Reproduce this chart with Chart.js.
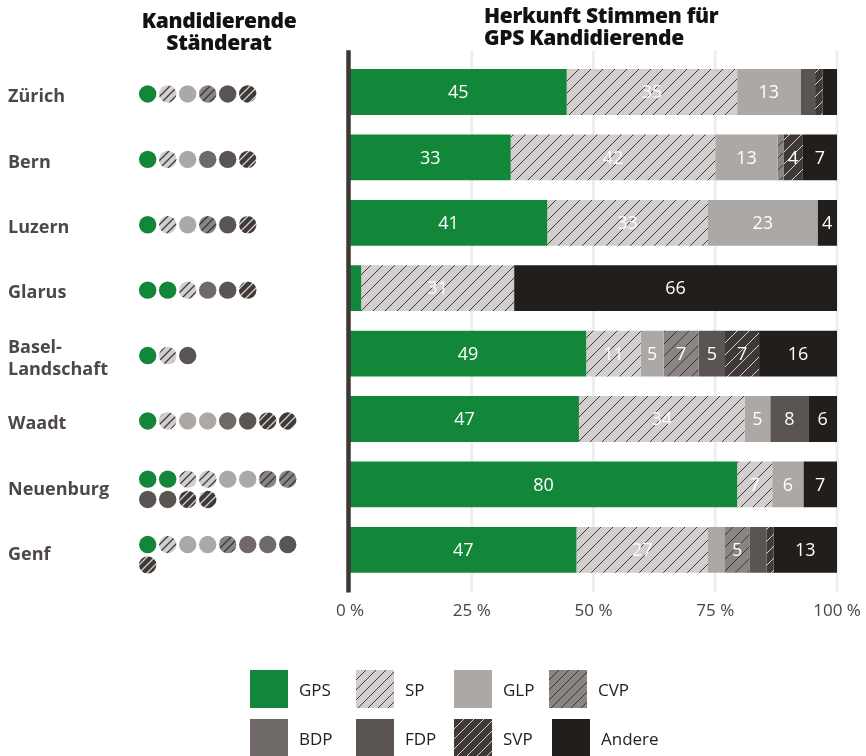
<!DOCTYPE html>
<html><head><meta charset="utf-8">
<script src="https://cdn.jsdelivr.net/npm/chart.js@4.4.1/dist/chart.umd.min.js"></script>
<style>
html,body{margin:0;padding:0;background:#fff;}
#wrap{position:relative;width:866px;height:756px;overflow:hidden;font-family:'Open Sans',sans-serif;}
canvas.full{position:absolute;left:0;top:0;}
.title{position:absolute;font-family:'Open Sans',sans-serif;font-weight:800;font-size:21px;line-height:22px;color:#141210;letter-spacing:-0.3px;}
.leg{position:absolute;display:flex;align-items:center;font-size:17px;color:#222;height:38px;}
.leg canvas{width:38px;height:38px;margin-right:11px;display:block;}
</style></head>
<body><div id="wrap">
<canvas id="bars" class="full" width="866" height="756"></canvas>
<canvas id="dots" class="full" width="866" height="756"></canvas>
<div class="title" style="left:119px;top:9px;width:200px;text-align:center;">Kandidierende<br>Ständerat</div>
<div class="title" style="left:484px;top:4px;">Herkunft Stimmen für<br>GPS Kandidierende</div>
<div id="legend"></div>
</div>
<script>
// ---- data ----
const regions = ['Zürich', 'Bern', 'Luzern', 'Glarus', ['Basel-', 'Landschaft'], 'Waadt', 'Neuenburg', 'Genf'];
const parties = ['GPS', 'SP', 'GLP', 'CVP', 'BDP', 'FDP', 'SVP', 'Andere'];
const gps    = [44.5, 33,   40.5, 2.3,  48.5, 47,  79.5, 46.5];
const sp     = [35,   42,   33,   31.4, 11.2, 34,  7.2,  27];
const glp    = [13,   12.8, 22.5, 0,    4.7,  5.3, 6.4,  3.5];
const cvp    = [0,    1.2,  0,    0,    7.2,  0,   0,    5];
const bdp    = [0,    0,    0,    0,    0,    0,   0,    0];
const fdp    = [3,    0,    0,    0,    5.4,  7.8, 0,    3.5];
const svp    = [1.5,  4,    0,    0,    7,    0,   0,    1.5];
const andere = [3,    7,    4,    66.3, 16,   5.9, 6.9,  13];
const tickValues = [0, 25, 50, 75, 100];
// Ständerat candidates per canton (party of each candidate)
const candidates = [
  ['GPS','SP','GLP','CVP','FDP','SVP'],
  ['GPS','SP','GLP','BDP','FDP','SVP'],
  ['GPS','SP','GLP','CVP','FDP','SVP'],
  ['GPS','GPS','SP','BDP','FDP','SVP'],
  ['GPS','SP','FDP'],
  ['GPS','SP','GLP','GLP','BDP','FDP','SVP','SVP'],
  ['GPS','GPS','SP','SP','GLP','GLP','CVP','CVP','FDP','FDP','SVP','SVP'],
  ['GPS','SP','GLP','GLP','CVP','BDP','BDP','FDP','SVP']
];
const series = [gps, sp, glp, cvp, bdp, fdp, svp, andere];

// ---- styles ----
const styles = {
  GPS:{bg:'#12873a'}, SP:{bg:'#d1cecd', line:'#3e3b3a'}, GLP:{bg:'#aca8a5'},
  CVP:{bg:'#8a8582', line:'#3a3634'}, BDP:{bg:'#6f6a67'}, FDP:{bg:'#5a5452'},
  SVP:{bg:'#3f3a37', line:'#d6d2d0'}, Andere:{bg:'#221e1b'}
};
function makeFill(ctx, party, size, lw){
  const s = styles[party];
  if(!s.line) return s.bg;
  const c = document.createElement('canvas'); c.width = c.height = size;
  const x = c.getContext('2d');
  x.fillStyle = s.bg; x.fillRect(0,0,size,size);
  x.strokeStyle = s.line; x.lineWidth = lw;
  x.beginPath();
  x.moveTo(-1, size+1); x.lineTo(size+1, -1);
  x.moveTo(-size/2-1, size/2+1); x.lineTo(size/2+1, -size/2-1);
  x.moveTo(size/2-1, size*1.5+1); x.lineTo(size*1.5+1, size/2-1);
  x.stroke();
  return ctx.createPattern(c, 'repeat');
}

Chart.defaults.font.family = "'Open Sans', sans-serif";

// ---- bar chart ----
const ctxB = document.getElementById('bars').getContext('2d');
const gridPlugin = {
  id:'gridExt',
  beforeDatasetsDraw(chart){
    const {ctx, chartArea:a, scales:{x}} = chart;
    ctx.save(); ctx.strokeStyle = '#eeeeee'; ctx.lineWidth = 3;
    tickValues.forEach(v => { if(v === 0) return;
      const px = x.getPixelForValue(v);
      ctx.beginPath(); ctx.moveTo(px, a.top - 9); ctx.lineTo(px, a.bottom + 10); ctx.stroke(); });
    ctx.restore();
  },
  afterDatasetsDraw(chart){
    const {ctx, chartArea:a, scales:{x}} = chart;
    ctx.save();
    // value labels
    ctx.fillStyle = '#ffffff'; ctx.font = "18px 'Open Sans', sans-serif";
    ctx.textAlign = 'center'; ctx.textBaseline = 'middle';
    chart.data.datasets.forEach((ds, i) => {
      const meta = chart.getDatasetMeta(i);
      meta.data.forEach((el, j) => {
        const v = ds.data[j];
        if(v >= 4){ const p = el.getCenterPoint(); ctx.fillText(String(Math.round(v)), p.x, p.y + 1); }
      });
    });
    // zero axis line
    const px = x.getPixelForValue(0);
    ctx.strokeStyle = '#3d3836'; ctx.lineWidth = 4.5;
    ctx.beginPath(); ctx.moveTo(px - 1.5, a.top - 9); ctx.lineTo(px - 1.5, a.bottom + 10); ctx.stroke();
    ctx.restore();
  }
};
new Chart(ctxB, {
  type:'bar',
  data:{
    labels: regions,
    datasets: parties.map((p, i) => ({
      label: p, data: series[i], backgroundColor: makeFill(ctxB, p, 12, 1),
      borderWidth: 0, categoryPercentage: 1, barPercentage: 0.7
    }))
  },
  options:{
    indexAxis:'y', responsive:false, animation:false, devicePixelRatio:1,
    layout:{padding:{left:8, top:59.3, right:29, bottom:133.5}},
    scales:{
      x:{stacked:true, min:0, max:100, grid:{display:false, drawTicks:false}, border:{display:false},
         afterBuildTicks(s){ s.ticks = tickValues.map(v => ({value:v})); },
         ticks:{callback:v => v + ' %', color:'#444444', font:{size:17}, padding:18, maxRotation:0, autoSkip:false},
         afterFit(s){ s.height = 40; s.paddingLeft = 0; s.paddingRight = 0; }},
      y:{stacked:true, grid:{display:false, drawTicks:false}, border:{display:false},
         ticks:{crossAlign:'far', color:'#4d4845', font:{size:18, weight:'bold', lineHeight:1.2}, padding:0, autoSkip:false, labelOffset:5},
         afterFit(s){ s.width = 342; }}
    },
    plugins:{legend:{display:false}, tooltip:{enabled:false}}
  },
  plugins:[gridPlugin]
});

// ---- candidate dots chart ----
const ctxD = document.getElementById('dots').getContext('2d');
const dotData = parties.map(() => []);
candidates.forEach((list, r) => {
  const two = list.length > 8;
  list.forEach((p, k) => {
    const line = Math.floor(k / 8);
    const off = two ? (line === 0 ? -0.08 : 0.23) : 0.03;
    dotData[parties.indexOf(p)].push({x: k % 8, y: r + off});
  });
});
new Chart(ctxD, {
  type:'scatter',
  data:{datasets: parties.map((p, i) => ({
    label:p, data: dotData[i], pointBackgroundColor: makeFill(ctxD, p, 8, 1.3),
    pointBorderWidth:0, pointRadius:8.7, pointHoverRadius:8.7
  }))},
  options:{
    responsive:false, animation:false, devicePixelRatio:1,
    layout:{padding:{left:137.7, right:528.3, top:59.3, bottom:173.5}},
    scales:{x:{display:false, min:-0.5, max:9.5}, y:{display:false, min:-0.5, max:7.5, reverse:true}},
    plugins:{legend:{display:false}, tooltip:{enabled:false}}
  }
});

// ---- legend ----
const legPos = [[250,670],[356,670],[454,670],[549,670],[250,719],[356,719],[454,719],[552,719]];
const legEl = document.getElementById('legend');
parties.forEach((p, i) => {
  const d = document.createElement('div'); d.className = 'leg';
  d.style.left = legPos[i][0] + 'px'; d.style.top = legPos[i][1] + 'px';
  const c = document.createElement('canvas'); c.width = 38; c.height = 38;
  const cx = c.getContext('2d'); cx.fillStyle = makeFill(cx, p, 10, 1); cx.fillRect(0,0,38,38);
  d.appendChild(c);
  const t = document.createElement('span'); t.textContent = p; d.appendChild(t);
  legEl.appendChild(d);
});
</script>
</body></html>
